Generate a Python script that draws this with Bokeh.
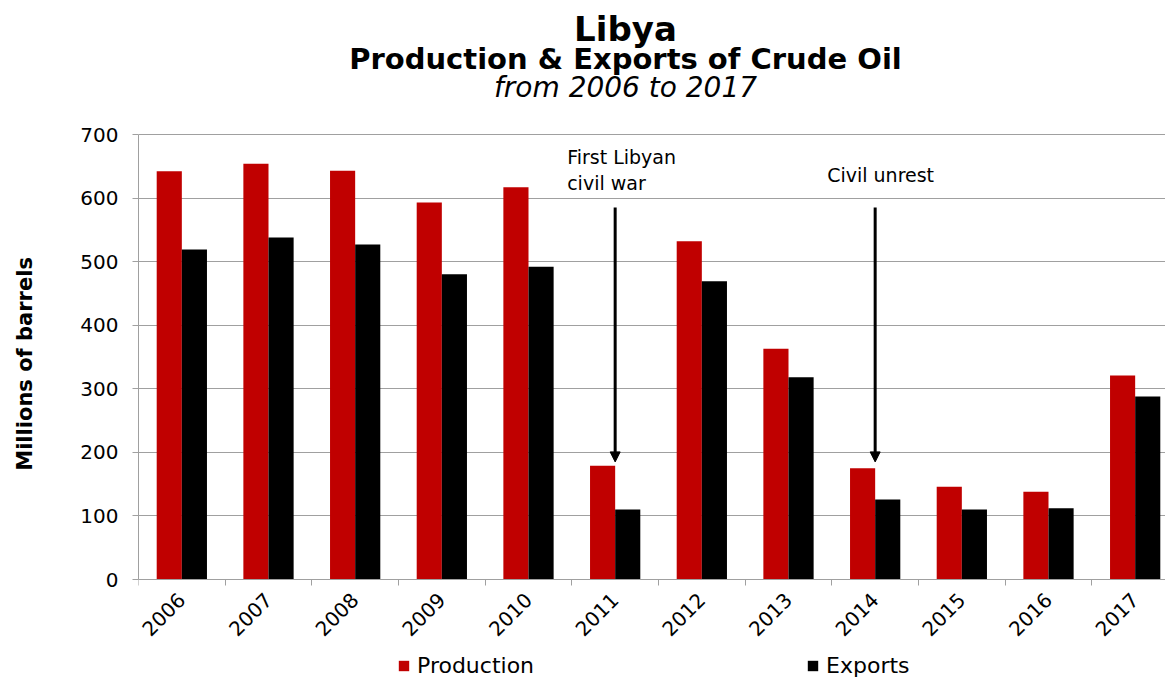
from bokeh.plotting import figure
from bokeh.models import (ColumnDataSource, FixedTicker, Legend, LegendItem, Label,
                          Arrow, NormalHead)
from bokeh.transform import dodge
from bokeh.embed import file_html
from bokeh.resources import INLINE

# ---- data ----
years = ["2006", "2007", "2008", "2009", "2010", "2011",
         "2012", "2013", "2014", "2015", "2016", "2017"]
production = [642, 654, 643, 593, 617, 179, 532, 363, 175, 146, 138, 321]
exports = [519, 538, 527, 480, 492, 110, 469, 318, 126, 110, 112, 288]
y_ticks = [0, 100, 200, 300, 400, 500, 600, 700]
event_years = ["2011", "2014"]
event_labels = ["First Libyan\ncivil war", "Civil unrest"]
arrow_from = 585
arrow_to = 185

FONT = "DejaVu Sans"
RED = "#C00000"

# layout (pixels): frame spans the full canvas height, value axis 0..700
W, H = 1165, 683
LEFT, ZERO_PX, TOP_PX = 138, 579, 134
y_max = y_ticks[-1]
units_per_px = y_max / (ZERO_PX - TOP_PX)
y_start = -(H - ZERO_PX) * units_per_px
y_end = y_max + TOP_PX * units_per_px

pos = [i + 0.5 for i in range(len(years))]
src = ColumnDataSource(dict(x=pos, year=years, production=production, exports=exports))

p = figure(width=W, height=H, x_range=(0, 11.85), y_range=(y_start, y_end),
           output_backend="svg", toolbar_location=None,
           min_border_left=LEFT, min_border_right=0, min_border_top=0,
           min_border_bottom=0)
p.outline_line_color = None

bw = 0.29
r1 = p.vbar(x=dodge("x", -bw / 2), top="production", bottom=0, width=bw, source=src,
            fill_color=RED, line_color=None)
r2 = p.vbar(x=dodge("x", bw / 2), top="exports", bottom=0, width=bw, source=src,
            fill_color="black", line_color=None)

# title block
title_cx = 625 - LEFT
for txt, base, size, style in [("Libya", 28, "34px", "bold"),
                               ("Production & Exports of Crude Oil", 58, "29px", "bold"),
                               ("from 2006 to 2017", 87, "28px", "italic")]:
    p.add_layout(Label(x=title_cx, y=H - base, x_units="screen", y_units="screen",
                       text=txt, text_font=FONT, text_font_size=size,
                       text_font_style=style, text_align="center",
                       text_baseline="alphabetic", text_color="black"))

# axes
xa = p.xaxis[0]
xa.fixed_location = 0
xa.ticker = FixedTicker(ticks=pos, minor_ticks=list(range(len(years) + 1)))
xa.major_label_overrides = {v: y for v, y in zip(pos, years)}
xa.major_label_orientation = 0.785398
xa.major_tick_out = 0
xa.major_tick_in = 0
xa.minor_tick_out = 6
xa.minor_tick_in = 0
xa.minor_tick_line_color = "#A0A0A0"
xa.axis_line_color = "#A0A0A0"
xa.major_label_text_font = FONT
xa.major_label_text_font_size = "20px"
xa.major_label_text_color = "black"
xa.major_label_standoff = 11

ya = p.yaxis[0]
ya.ticker = FixedTicker(ticks=y_ticks)
ya.bounds = (0, y_max)
# trailing no-break spaces shift the label's centre down to the 0..700 span
ya.axis_label = "Millions of barrels" + "\u00a0" * 6
ya.axis_label_text_font = FONT
ya.axis_label_text_font_size = "21px"
ya.axis_label_text_font_style = "bold"
ya.axis_label_text_color = "black"
ya.axis_label_standoff = 40
ya.major_label_text_font = FONT
ya.major_label_text_font_size = "20px"
ya.major_label_text_color = "black"
ya.major_label_standoff = 14
ya.major_tick_out = 6
ya.major_tick_in = 0
ya.minor_tick_out = 0
ya.minor_tick_in = 0
ya.major_tick_line_color = "#A0A0A0"
ya.axis_line_color = "#A0A0A0"

p.xgrid.visible = False
p.ygrid.grid_line_color = "#A0A0A0"
p.ygrid.grid_line_width = 1

# event annotations
for ev, lab, dy in zip(event_years, event_labels, [-11, -29]):
    xi = pos[years.index(ev)]
    p.add_layout(Arrow(end=NormalHead(size=10, fill_color="black", line_color="black"),
                       x_start=xi, y_start=arrow_from, x_end=xi, y_end=arrow_to,
                       line_width=3, line_color="black"))
    p.add_layout(Label(x=xi, y=y_max, x_offset=-48, y_offset=dy, text=lab,
                       text_font=FONT, text_font_size="19px", text_align="left",
                       text_baseline="top", text_color="black"))

legend = Legend(items=[LegendItem(label="Production", renderers=[r1]),
                       LegendItem(label="Exports", renderers=[r2])],
                location=(259, 5), orientation="horizontal", spacing=272,
                padding=0, margin=0, border_line_color=None, background_fill_alpha=0,
                label_text_font=FONT, label_text_font_size="22px",
                label_text_color="black", label_height=24,
                glyph_width=13, glyph_height=13, label_standoff=7)
p.add_layout(legend, "center")

open("out.html", "w").write(file_html(p, INLINE))
